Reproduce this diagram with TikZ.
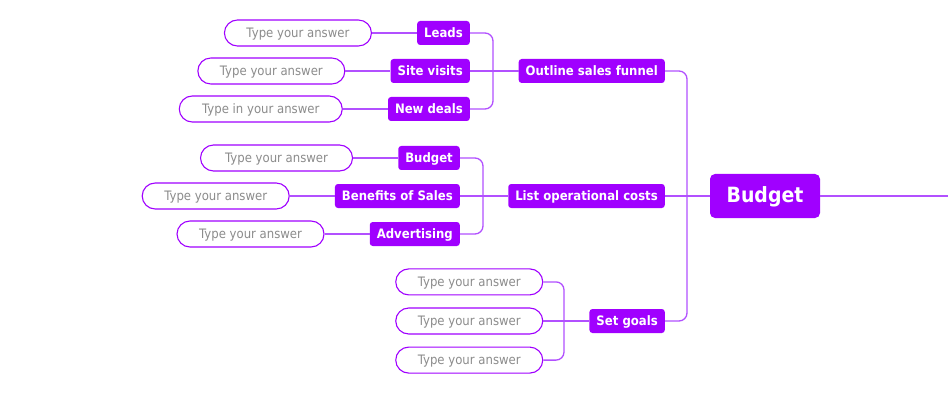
\documentclass[tikz,border=0pt]{standalone}
\usepackage{fontspec}
\setmainfont{DejaVu Sans}
\newfontfamily\mapfont[FakeStretch=0.9]{DejaVu Sans}
\usetikzlibrary{positioning}
\definecolor{boxpurple}{RGB}{160,0,255}
\definecolor{linkpurple}{RGB}{178,80,255}
\definecolor{answergray}{RGB}{140,140,140}

\begin{document}
\begin{tikzpicture}[
    x=1pt, y=-1pt,
    node distance=45pt and 45pt,
    topic/.style={rectangle, fill=boxpurple, text=white, font=\mapfont\bfseries\fontsize{13}{15}\selectfont, rounded corners=3pt, minimum height=24pt, inner xsep=7pt, inner ysep=0pt, text height=9pt, text depth=0pt},
    main/.style={topic, font=\mapfont\bfseries\fontsize{21}{24}\selectfont, minimum width=110pt, minimum height=44pt, rounded corners=5pt, text height=13pt},
    answer/.style={rectangle, draw=boxpurple, line width=1.1pt, rounded corners=13pt, minimum width=147pt, minimum height=26pt, inner sep=0pt, text=answergray, font=\mapfont\fontsize{13}{15}\selectfont, text height=9pt, text depth=0pt},
    link/.style={draw=linkpurple, line width=1.3pt, rounded corners=8pt}
]

\useasboundingbox[fill=white] (0,0) rectangle (948,393);

% Central topic
\node[main] (budget) at (765,196) {Budget};
\coordinate (hub) at (687,196);
\coordinate (rightend) at (948,196);

% Main branches
\node[topic, anchor=east] (funnel) at (665,71) {Outline sales funnel};
\node[topic, anchor=east] (costs) at (665,196) {List operational costs};
\node[topic, anchor=east] (goals) at (665,321) {Set goals};

% Sales funnel branch
\node[topic, anchor=east] (leads) at (470,33) {Leads};
\node[topic, anchor=east] (visits) at (470,71) {Site visits};
\node[topic, anchor=east] (deals) at (470,109) {New deals};
\coordinate (fork1) at (493,71);

% Operational costs branch
\node[topic, anchor=east] (subbudget) at (460,158) {Budget};
\node[topic, anchor=east] (benefits) at (460,196) {Benefits of Sales};
\node[topic, anchor=east] (advert) at (460,234) {Advertising};
\coordinate (fork2) at (483,196);

% Answers
\node[answer, left=of leads] (ans-leads) {Type your answer};
\node[answer, left=of visits] (ans-visits) {Type your answer};
\node[answer, left=of deals, minimum width=163pt] (ans-deals) {Type in your answer};
\node[answer, left=of subbudget, minimum width=152pt] (ans-subbudget) {Type your answer};
\node[answer, left=of benefits] (ans-benefits) {Type your answer};
\node[answer, left=of advert] (ans-advert) {Type your answer};

% Goals answers
\node[answer, left=46pt of goals] (ans-goals2) {Type your answer};
\node[answer, above=12pt of ans-goals2] (ans-goals1) {Type your answer};
\node[answer, below=12pt of ans-goals2] (ans-goals3) {Type your answer};
\coordinate (fork3) at (564,321);

% Connectors
\draw[link] (budget) -- (rightend);
\draw[link] (funnel.east) -| (hub) |- (goals.east);
\draw[link] (costs) -- (budget);

\draw[link] (leads.east) -| (fork1) |- (deals.east);
\draw[link] (visits) -- (funnel);
\draw[link] (subbudget.east) -| (fork2) |- (advert.east);
\draw[link] (benefits) -- (costs);
\draw[link] (ans-goals1.east) -| (fork3) |- (ans-goals3.east);
\draw[link] (ans-goals2) -- (goals);

\draw[link] (ans-leads) -- (leads);
\draw[link] (ans-visits) -- (visits);
\draw[link] (ans-deals) -- (deals);
\draw[link] (ans-subbudget) -- (subbudget);
\draw[link] (ans-benefits) -- (benefits);
\draw[link] (ans-advert) -- (advert);

\end{tikzpicture}
\end{document}
